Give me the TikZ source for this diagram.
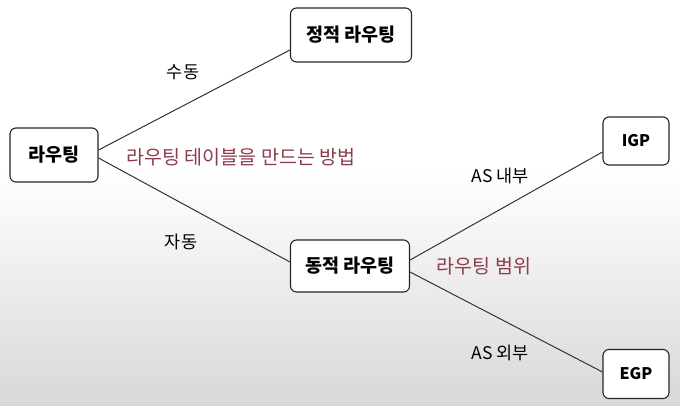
\documentclass[tikz,border=0pt]{standalone}
\usepackage{fontspec}
\setmainfont{Noto Sans CJK KR}
\definecolor{topic}{RGB}{140,60,75}
\definecolor{bgbottom}{RGB}{216,216,216}
\begin{document}
\begin{tikzpicture}[x=1pt,y=-1pt,
  box/.style={draw=black!85,line width=1.1pt,rounded corners=6pt,fill=white,inner sep=0pt,font=\fontsize{18.5}{20}\selectfont\bfseries},
  smallbox/.style={box,font=\fontsize{16}{18}\selectfont\bfseries},
  conn/.style={draw=black!80,line width=1pt},
  lbl/.style={font=\fontsize{17.5}{20}\selectfont},
  note/.style={font=\fontsize{19.5}{22}\selectfont,text=topic}]
\useasboundingbox (0,0) rectangle (680,405);
\fill[white] (0,0) rectangle (680,405);
\shade[top color=white,bottom color=bgbottom] (0,170) rectangle (680,405);
\node[box,minimum width=88pt,minimum height=54pt] (r) at (54,155) {라우팅};
\node[box,minimum width=121pt,minimum height=54pt] (s) at (351,35) {정적 라우팅};
\node[box,minimum width=119pt,minimum height=52pt] (d) at (350,266) {동적 라우팅};
\node[smallbox,minimum width=66pt,minimum height=48pt] (i) at (636,141) {IGP};
\node[smallbox,minimum width=66pt,minimum height=49pt] (e) at (636,374) {EGP};
\draw[conn] ([yshift=5pt]r.east) -- ([yshift=-15pt]s.west);
\draw[conn] ([yshift=-3pt]r.east) -- ([yshift=4pt]d.west);
\draw[conn] ([yshift=6pt]d.east) -- ([yshift=-11pt]i.west);
\draw[conn] ([yshift=-6pt]d.east) -- ([yshift=2pt]e.west);
\node[lbl] (l1) at (183,72) {수동};
\node[lbl] (l2) at (181,242) {자동};
\node[lbl] (l3) at (500,176) {AS 내부};
\node[lbl] (l4) at (500,353) {AS 외부};
\node[note] (n1) at (241,157) {라우팅 테이블을 만드는 방법};
\node[note] (n2) at (484,266) {라우팅 범위};
\end{tikzpicture}
\end{document}
